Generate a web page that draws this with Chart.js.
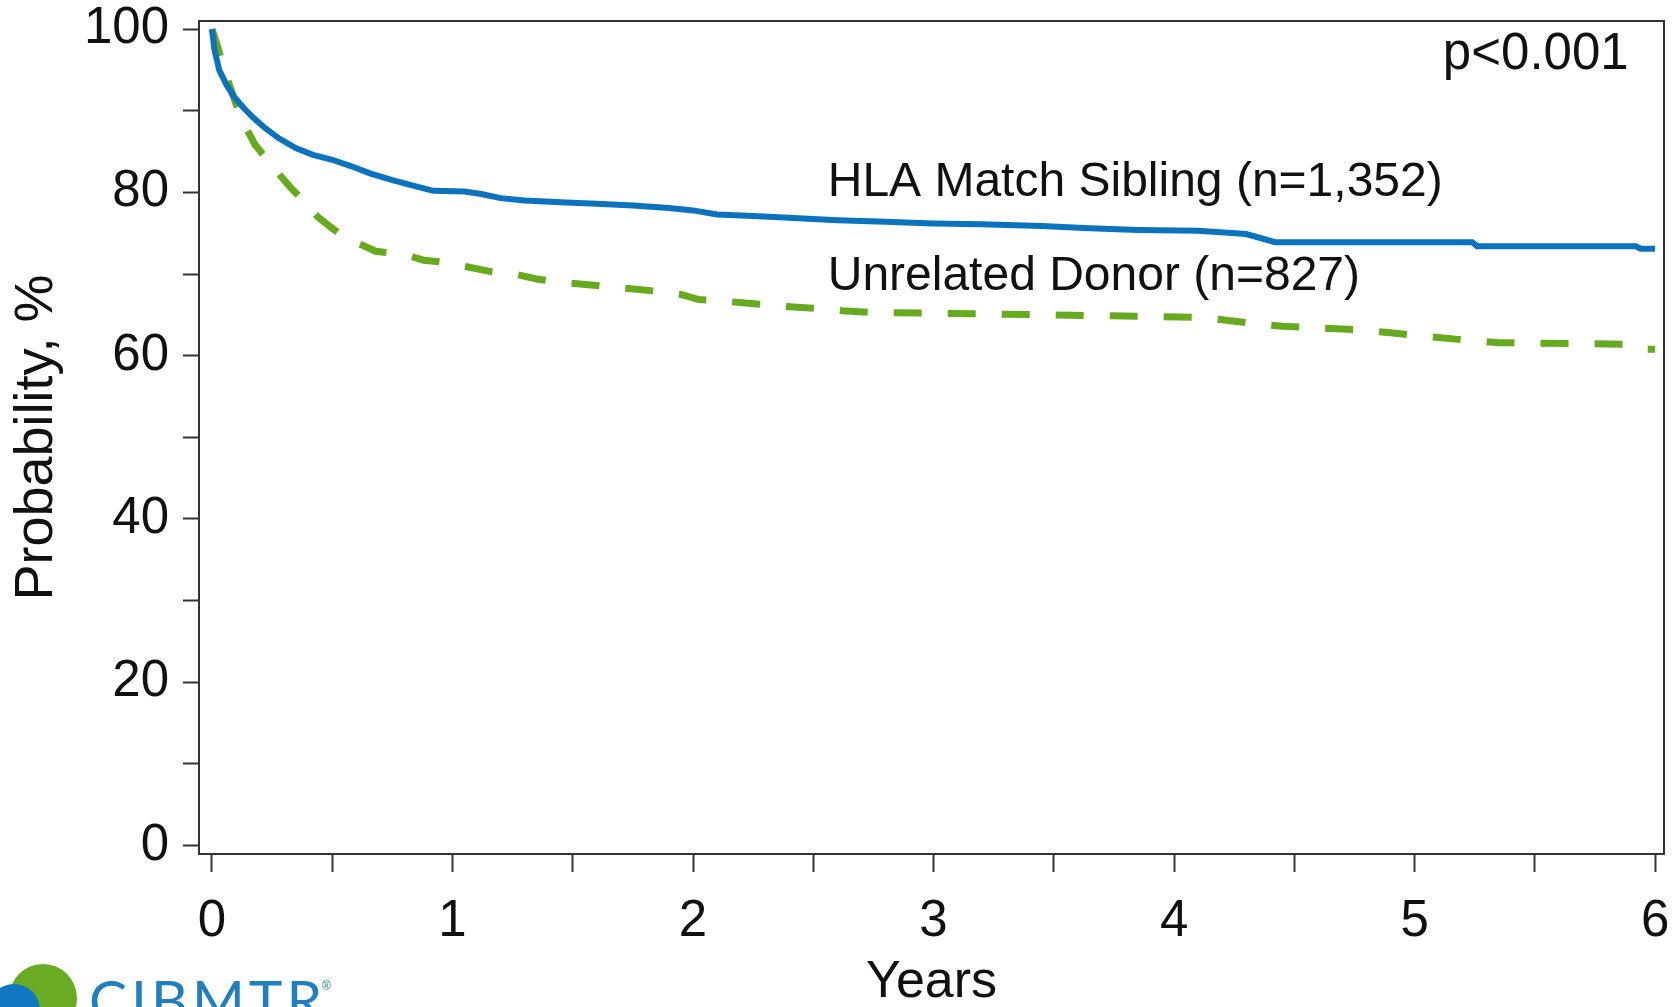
<!DOCTYPE html>
<html>
<head>
<meta charset="utf-8">
<script src="https://cdn.jsdelivr.net/npm/chart.js@4.4.1/dist/chart.umd.min.js"></script>
<style>
  body { margin: 0; background: #fff; }
  #wrap { width: 1673px; height: 1007px; }
</style>
</head>
<body>
<div id="wrap"><canvas id="kmChart" width="1673" height="1007"></canvas></div>
<script>
// Kaplan-Meier estimates (years, probability %)
var siblingYears = [0, 0.01, 0.03, 0.06, 0.09, 0.13, 0.17, 0.22, 0.28, 0.35, 0.42, 0.5, 0.58, 0.66, 0.75, 0.84, 0.92, 1.05, 1.12, 1.2, 1.3, 1.45, 1.6, 1.75, 1.9, 2.0, 2.1, 2.25, 2.4, 2.6, 2.8, 3.0, 3.2, 3.45, 3.65, 3.85, 4.1, 4.3, 4.42, 5.24, 5.26, 5.92, 5.94, 6.0];
var siblingProb  = [100, 97.5, 95.0, 93.2, 91.8, 90.4, 89.2, 87.9, 86.6, 85.4, 84.6, 84.0, 83.2, 82.3, 81.5, 80.8, 80.2, 80.1, 79.8, 79.3, 79.0, 78.8, 78.6, 78.4, 78.1, 77.8, 77.3, 77.1, 76.9, 76.6, 76.4, 76.2, 76.1, 75.9, 75.6, 75.4, 75.3, 74.9, 73.9, 73.9, 73.4, 73.4, 73.1, 73.1];

var unrelatedYears = [0, 0.02, 0.04, 0.07, 0.1, 0.14, 0.18, 0.23, 0.28, 0.33, 0.38, 0.44, 0.5, 0.56, 0.62, 0.68, 0.8, 0.88, 0.98, 1.06, 1.16, 1.26, 1.35, 1.45, 1.6, 1.7, 1.85, 1.95, 2.02, 2.12, 2.24, 2.35, 2.5, 2.62, 2.75, 3.5, 4.1, 4.2, 4.35, 4.45, 4.75, 4.9, 5.18, 5.35, 5.9, 5.96, 6.0];
var unrelatedProb  = [100, 98.2, 96.2, 93.4, 90.8, 88.0, 85.8, 84.0, 82.2, 80.5, 79.0, 77.0, 75.6, 74.3, 73.6, 72.8, 72.4, 71.7, 71.4, 70.9, 70.3, 70.0, 69.4, 69.0, 68.6, 68.3, 67.9, 67.5, 66.9, 66.7, 66.4, 66.1, 65.8, 65.5, 65.3, 65.0, 64.7, 64.4, 63.9, 63.6, 63.2, 62.8, 62.0, 61.6, 61.4, 60.8, 60.8];

var xTicks = [0, 0.5, 1, 1.5, 2, 2.5, 3, 3.5, 4, 4.5, 5, 5.5, 6];
var yTicks = [0, 10, 20, 30, 40, 50, 60, 70, 80, 90, 100];

var seriesLabels = ['HLA Match Sibling (n=1,352)', 'Unrelated Donor (n=827)'];
var pValueText = 'p<0.001';

function toPoints(xs, ys) {
  return xs.map(function (x, i) { return { x: x, y: ys[i] }; });
}

var FONT = '"Liberation Sans", Arial, sans-serif';

// frame + annotations + logo
var extras = {
  id: 'extras',
  afterDatasetsDraw: function (chart) {
    var ctx = chart.ctx, a = chart.chartArea;
    var xs = chart.scales.x, ys = chart.scales.y;
    ctx.save();
    ctx.strokeStyle = '#333';
    ctx.lineWidth = 2;
    ctx.strokeRect(a.left, a.top, a.right - a.left, a.bottom - a.top);

    ctx.fillStyle = '#111';
    ctx.textBaseline = 'middle';
    ctx.font = '48px ' + FONT;
    ctx.textAlign = 'left';
    ctx.fillText(seriesLabels[0], xs.getPixelForValue(2.56), ys.getPixelForValue(81.2));
    ctx.fillText(seriesLabels[1], xs.getPixelForValue(2.56), ys.getPixelForValue(69.7));
    ctx.font = '51px ' + FONT;
    ctx.textAlign = 'right';
    ctx.fillText(pValueText, xs.getPixelForValue(5.89), ys.getPixelForValue(96.8));
    ctx.restore();
  },
  afterDraw: function (chart) {
    var ctx = chart.ctx;
    ctx.save();
    ctx.fillStyle = '#6aab24';
    ctx.beginPath();
    ctx.arc(43, 998, 34, 0, Math.PI * 2);
    ctx.fill();
    ctx.fillStyle = '#0f78c0';
    ctx.beginPath();
    ctx.arc(14, 1010, 26, 0, Math.PI * 2);
    ctx.fill();
    ctx.fillStyle = '#1f7fc0';
    ctx.font = '400 57px Lato, "Open Sans", sans-serif';
    ctx.textBaseline = 'alphabetic';
    ctx.textAlign = 'left';
    if ('letterSpacing' in ctx) ctx.letterSpacing = '4px';
    ctx.fillText('CIBMTR', 89, 1021);
    ctx.font = '12px ' + FONT;
    ctx.fillText('®', 322, 990);
    ctx.restore();
  }
};

var ctx = document.getElementById('kmChart').getContext('2d');
var kmChart = new Chart(ctx, {
  type: 'line',
  data: {
    datasets: [{
      label: seriesLabels[0],
      data: toPoints(siblingYears, siblingProb),
      borderColor: '#0b72bd',
      borderWidth: 6,
      pointRadius: 0,
      fill: false
    }, {
      label: seriesLabels[1],
      data: toPoints(unrelatedYears, unrelatedProb),
      borderColor: '#66aa1e',
      borderWidth: 7,
      borderDash: [28, 26],
      pointRadius: 0,
      fill: false
    }]
  },
  options: {
    responsive: false,
    animation: false,
    layout: { padding: { top: 21, right: 9, left: 0, bottom: 0 } },
    plugins: {
      legend: { display: false },
      tooltip: { enabled: false }
    },
    scales: {
      x: {
        type: 'linear',
        min: -0.054,
        max: 6.037,
        afterFit: function (s) { s.height = 153; s.paddingLeft = 0; s.paddingRight = 0; },
        afterBuildTicks: function (s) { s.ticks = xTicks.map(function (v) { return { value: v }; }); },
        grid: { drawOnChartArea: false, drawTicks: true, tickLength: 18, tickColor: '#333', tickWidth: 2 },
        border: { display: true, color: '#333', width: 2 },
        ticks: {
          autoSkip: false,
          maxRotation: 0,
          padding: 19,
          color: '#111',
          font: { family: FONT, size: 51 },
          callback: function (v) { return Number.isInteger(v) ? String(v) : ''; }
        },
        title: {
          display: true,
          text: 'Years',
          color: '#111',
          font: { family: FONT, size: 52, lineHeight: 1 },
          padding: { top: 0, bottom: -2 }
        }
      },
      y: {
        type: 'linear',
        min: -1.04,
        max: 101,
        afterFit: function (s) { s.width = 199; s.paddingTop = 0; s.paddingBottom = 0; },
        afterBuildTicks: function (s) { s.ticks = yTicks.map(function (v) { return { value: v }; }); },
        grid: { drawOnChartArea: false, drawTicks: true, tickLength: 16, tickColor: '#333', tickWidth: 2 },
        border: { display: true, color: '#333', width: 2 },
        ticks: {
          autoSkip: false,
          padding: 14,
          color: '#111',
          font: { family: FONT, size: 51 },
          callback: function (v) { return v % 20 === 0 ? String(v) : ''; }
        },
        title: {
          display: true,
          text: 'Probability, %',
          color: '#111',
          font: { family: FONT, size: 54 },
          padding: { top: 5, bottom: 0 }
        }
      }
    }
  },
  plugins: [extras]
});
</script>
</body>
</html>
